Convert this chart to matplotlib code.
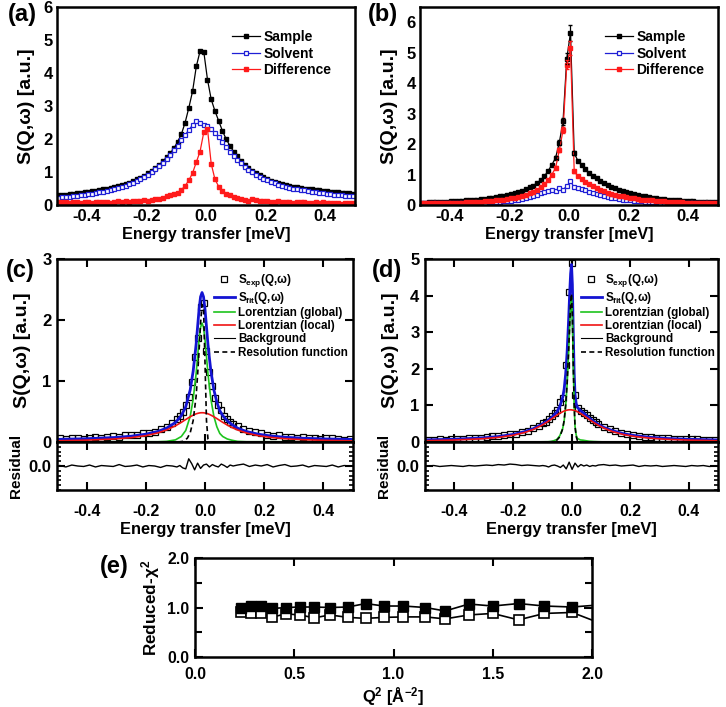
import matplotlib
matplotlib.use("Agg")
import matplotlib.pyplot as plt
from matplotlib import font_manager
from matplotlib.ticker import FixedLocator, MultipleLocator, FormatStrFormatter
import numpy as np

plt.rcParams['font.family'] = ['Liberation Sans', 'DejaVu Sans']
plt.rcParams['font.weight'] = 'bold'
plt.rcParams['axes.labelweight'] = 'bold'
plt.rcParams['axes.unicode_minus'] = False
plt.rcParams['mathtext.fontset'] = 'custom'
plt.rcParams['mathtext.rm'] = 'Liberation Sans:bold'
plt.rcParams['mathtext.it'] = 'Liberation Sans:bold'
plt.rcParams['mathtext.bf'] = 'Liberation Sans:bold'
plt.rcParams['mathtext.default'] = 'rm'

installed = {f.name for f in font_manager.fontManager.ttflist}
HAS_NARROW = 'Liberation Sans Narrow' in installed
NARROW = ['Liberation Sans Narrow', 'Liberation Sans'] if HAS_NARROW else ['Liberation Sans']
NSCALE = 1.0 if HAS_NARROW else 0.88

# ---------------- data: panels (a) and (b) ----------------
ENERGY_AB = np.round(-0.495 + 0.0125 * np.arange(80), 4)

SAMPLE_A = [0.30, 0.31, 0.31, 0.33, 0.34, 0.35, 0.37, 0.38, 0.39, 0.41,
            0.43, 0.45, 0.47, 0.49, 0.52, 0.55, 0.57, 0.61, 0.64, 0.68,
            0.72, 0.78, 0.83, 0.89, 0.96, 1.03, 1.11, 1.21, 1.32, 1.44,
            1.57, 1.72, 1.92, 2.15, 2.50, 2.95, 3.45, 4.20, 4.66, 4.65,
            3.80, 3.20, 2.85, 2.55, 2.25, 2.00, 1.80, 1.62, 1.47, 1.34,
            1.22, 1.12, 1.03, 0.96, 0.90, 0.84, 0.79, 0.74, 0.70, 0.66,
            0.63, 0.60, 0.58, 0.56, 0.54, 0.52, 0.50, 0.48, 0.47, 0.45,
            0.44, 0.43, 0.42, 0.40, 0.39, 0.38, 0.37, 0.36, 0.35, 0.34]
SOLVENT_A = [0.22, 0.23, 0.24, 0.25, 0.26, 0.27, 0.29, 0.30, 0.32, 0.34,
             0.36, 0.38, 0.40, 0.43, 0.46, 0.49, 0.52, 0.55, 0.59, 0.63,
             0.68, 0.73, 0.79, 0.85, 0.92, 1.00, 1.08, 1.18, 1.28, 1.40,
             1.52, 1.66, 1.80, 1.96, 2.12, 2.28, 2.42, 2.56, 2.50, 2.42,
             2.38, 2.30, 2.18, 2.05, 1.90, 1.76, 1.62, 1.49, 1.37, 1.26,
             1.16, 1.07, 0.99, 0.92, 0.86, 0.80, 0.75, 0.70, 0.66, 0.62,
             0.59, 0.56, 0.53, 0.50, 0.48, 0.46, 0.44, 0.42, 0.40, 0.38,
             0.37, 0.35, 0.34, 0.33, 0.31, 0.30, 0.29, 0.28, 0.27, 0.26]
DIFF_A = [0.08, 0.10, 0.09, 0.07, 0.08, 0.10, 0.07, 0.09, 0.08, 0.06,
          0.09, 0.08, 0.10, 0.09, 0.07, 0.08, 0.11, 0.10, 0.12, 0.09,
          0.11, 0.13, 0.12, 0.14, 0.13, 0.16, 0.18, 0.19, 0.22, 0.26,
          0.30, 0.33, 0.37, 0.46, 0.58, 0.75, 0.97, 1.30, 1.62, 2.20,
          2.30, 1.25, 0.78, 0.56, 0.42, 0.34, 0.30, 0.25, 0.21, 0.18,
          0.15, 0.13, 0.17, 0.14, 0.12, 0.13, 0.11, 0.09, 0.10, 0.12,
          0.10, 0.08, 0.09, 0.07, 0.09, 0.08, 0.10, 0.07, 0.06, 0.08,
          0.07, 0.09, 0.06, 0.05, 0.07, 0.06, 0.04, 0.06, 0.05, 0.06]

SAMPLE_B = [0.08, 0.08, 0.09, 0.09, 0.10, 0.10, 0.11, 0.11, 0.12, 0.13,
            0.13, 0.14, 0.15, 0.16, 0.17, 0.18, 0.19, 0.21, 0.22, 0.24,
            0.26, 0.28, 0.30, 0.33, 0.36, 0.39, 0.43, 0.47, 0.52, 0.58,
            0.64, 0.72, 0.82, 0.95, 1.12, 1.32, 1.55, 2.05, 2.75, 4.80,
            5.65, 1.70, 1.45, 1.30, 1.17, 1.06, 0.96, 0.87, 0.79, 0.72,
            0.66, 0.60, 0.55, 0.50, 0.46, 0.42, 0.38, 0.35, 0.32, 0.30,
            0.28, 0.26, 0.24, 0.22, 0.21, 0.19, 0.18, 0.17, 0.16, 0.15,
            0.14, 0.13, 0.13, 0.12, 0.11, 0.11, 0.10, 0.10, 0.09, 0.09]
SOLVENT_B = [0.05, 0.05, 0.05, 0.05, 0.05, 0.05, 0.05, 0.05, 0.06, 0.06,
             0.06, 0.06, 0.06, 0.07, 0.07, 0.07, 0.08, 0.08, 0.09, 0.09,
             0.10, 0.11, 0.12, 0.13, 0.14, 0.16, 0.18, 0.20, 0.23, 0.26,
             0.30, 0.34, 0.38, 0.42, 0.46, 0.50, 0.45, 0.55, 0.50, 0.62,
             0.78, 0.58, 0.55, 0.52, 0.48, 0.44, 0.40, 0.36, 0.33, 0.30,
             0.27, 0.24, 0.22, 0.20, 0.18, 0.16, 0.15, 0.14, 0.13, 0.12,
             0.11, 0.10, 0.09, 0.09, 0.08, 0.08, 0.07, 0.07, 0.07, 0.06,
             0.06, 0.06, 0.06, 0.05, 0.05, 0.05, 0.05, 0.05, 0.05, 0.05]
DIFF_B = [0.06, 0.05, 0.06, 0.07, 0.06, 0.07, 0.06, 0.07, 0.08, 0.07,
          0.08, 0.08, 0.09, 0.09, 0.10, 0.10, 0.11, 0.12, 0.13, 0.14,
          0.15, 0.16, 0.18, 0.20, 0.22, 0.24, 0.27, 0.30, 0.34, 0.38,
          0.43, 0.50, 0.58, 0.68, 0.82, 1.00, 1.22, 1.80, 2.45, 4.60,
          5.15, 1.10, 0.95, 0.85, 0.76, 0.68, 0.61, 0.55, 0.50, 0.45,
          0.41, 0.37, 0.34, 0.31, 0.28, 0.26, 0.24, 0.22, 0.20, 0.18,
          0.17, 0.16, 0.15, 0.14, 0.13, 0.12, 0.11, 0.11, 0.10, 0.09,
          0.09, 0.08, 0.08, 0.08, 0.07, 0.07, 0.07, 0.06, 0.06, 0.06]
# error bars are only visible on the central points of (b)
ERR_SLICE = slice(36, 42)
SAMPLE_B_ERR = [0.05, 0.08, 0.12, 0.18, 0.25, 0.06]
DIFF_B_ERR = [0.05, 0.07, 0.10, 0.15, 0.22, 0.05]

# ---------------- data: panels (c) and (d) ----------------
TAIL_LEFT = [-0.49, -0.47, -0.45, -0.43, -0.41, -0.39, -0.37, -0.35, -0.33, -0.31,
             -0.29, -0.27, -0.25, -0.23, -0.21, -0.19, -0.17, -0.15, -0.13, -0.11]
TAIL_RIGHT = [0.11, 0.13, 0.15, 0.17, 0.19, 0.21, 0.23, 0.25, 0.27, 0.29,
              0.31, 0.33, 0.35, 0.37, 0.39, 0.41, 0.43, 0.45, 0.47, 0.49]
CENTER_C = [-0.095, -0.085, -0.075, -0.065, -0.055, -0.045, -0.035, -0.025, -0.015, -0.005,
            0.005, 0.015, 0.025, 0.035, 0.045, 0.055, 0.065, 0.075, 0.085, 0.095]
CENTER_D = [-0.098, -0.088, -0.078, -0.068, -0.058, -0.048, -0.038, -0.028, -0.018, -0.008,
            0.002, 0.012, 0.022, 0.032, 0.042, 0.052, 0.062, 0.072, 0.082, 0.092]
ENERGY_C = TAIL_LEFT + CENTER_C + TAIL_RIGHT
ENERGY_D = TAIL_LEFT + CENTER_D + TAIL_RIGHT

EXP_C = [0.06, 0.05, 0.07, 0.06, 0.05, 0.07, 0.08, 0.06, 0.09, 0.10,
         0.08, 0.11, 0.12, 0.11, 0.15, 0.15, 0.17, 0.21, 0.25, 0.31,
         0.37, 0.42, 0.50, 0.60, 0.74, 0.98, 1.40, 1.70, 2.22, 2.28,
         1.50, 1.15, 0.92, 0.72, 0.60, 0.53, 0.43, 0.38, 0.33, 0.30,
         0.26, 0.21, 0.18, 0.17, 0.15, 0.12, 0.10, 0.11, 0.08, 0.09,
         0.07, 0.08, 0.06, 0.07, 0.05, 0.06, 0.07, 0.05, 0.04, 0.05]
RESID_C = [0.01, -0.02, 0.02, 0.00, -0.01, 0.02, -0.02, 0.01, 0.00, -0.01,
           0.03, -0.01, 0.00, 0.02, -0.02, 0.01, 0.00, -0.03, 0.01, 0.00,
           -0.02, 0.01, -0.04, -0.06, 0.15, 0.05, -0.08, 0.06, -0.05, 0.02,
           0.04, -0.02, 0.03, 0.00, -0.02, 0.04, 0.01, -0.03, 0.02, 0.00,
           0.02, 0.04, -0.01, 0.02, 0.00, 0.03, -0.02, 0.01, 0.03, -0.01,
           0.00, 0.02, -0.02, 0.01, 0.00, -0.01, 0.02, -0.02, 0.01, 0.00]
EXP_D = [0.06, 0.05, 0.07, 0.06, 0.08, 0.07, 0.09, 0.10, 0.11, 0.12,
         0.13, 0.16, 0.17, 0.19, 0.21, 0.23, 0.27, 0.31, 0.38, 0.45,
         0.51, 0.56, 0.63, 0.70, 0.79, 0.88, 1.08, 1.20, 2.10, 4.10,
         4.88, 1.28, 0.92, 0.86, 0.80, 0.74, 0.66, 0.60, 0.54, 0.50,
         0.41, 0.35, 0.31, 0.25, 0.22, 0.19, 0.17, 0.14, 0.13, 0.12,
         0.11, 0.10, 0.09, 0.09, 0.08, 0.08, 0.07, 0.06, 0.06, 0.05]
RESID_D = [0.00, 0.01, -0.01, 0.00, 0.01, 0.00, -0.01, 0.01, 0.00, 0.01,
           0.02, 0.01, 0.03, 0.02, 0.04, 0.03, 0.01, 0.02, 0.01, 0.00,
           0.01, 0.00, -0.02, 0.01, 0.02, 0.00, -0.03, 0.02, -0.06, 0.08,
           -0.07, 0.06, -0.02, 0.03, 0.00, 0.02, -0.01, 0.01, 0.00, 0.02,
           0.03, 0.01, 0.02, 0.00, 0.01, 0.02, -0.01, 0.01, 0.00, 0.01,
           -0.01, 0.00, 0.01, 0.00, -0.01, 0.01, 0.00, 0.01, -0.01, 0.00]

FIT_X_C = [-0.5, -0.4, -0.3, -0.25, -0.2, -0.16, -0.13, -0.1, -0.08, -0.065,
           -0.05, -0.04, -0.03, -0.025, -0.02, -0.015, -0.01, -0.005, 0.0, 0.005,
           0.01, 0.015, 0.02, 0.03, 0.04, 0.05, 0.06, 0.075, 0.09, 0.11,
           0.14, 0.18, 0.22, 0.27, 0.33, 0.4, 0.5]
FIT_C = [0.043, 0.054, 0.075, 0.095, 0.128, 0.172, 0.227, 0.32, 0.432, 0.579,
         0.854, 1.16, 1.60, 1.89, 2.175, 2.38, 2.45, 2.38, 2.175, 1.89,
         1.60, 1.37, 1.16, 0.854, 0.654, 0.513, 0.432, 0.349, 0.29, 0.227,
         0.172, 0.128, 0.10, 0.078, 0.062, 0.051, 0.042]
GLOBAL_C = [0.004, 0.004, 0.004, 0.004, 0.004, 0.004, 0.01, 0.035, 0.09, 0.19,
            0.42, 0.70, 1.12, 1.40, 1.68, 1.88, 1.95, 1.88, 1.68, 1.40,
            1.12, 0.90, 0.70, 0.42, 0.25, 0.14, 0.09, 0.05, 0.03, 0.01,
            0.004, 0.004, 0.004, 0.004, 0.004, 0.004, 0.004]
LOCAL_C = [0.019, 0.030, 0.051, 0.071, 0.104, 0.148, 0.197, 0.265, 0.322, 0.369,
           0.414, 0.440, 0.462, 0.469, 0.475, 0.479, 0.480, 0.479, 0.475, 0.469,
           0.462, 0.452, 0.440, 0.414, 0.384, 0.353, 0.322, 0.279, 0.240, 0.197,
           0.148, 0.104, 0.076, 0.054, 0.038, 0.027, 0.018]
RES_X_C = [-0.09, -0.075, -0.06, -0.05, -0.04, -0.03, -0.025, -0.02, -0.015, -0.01,
           -0.005, 0.0, 0.005, 0.01, 0.02]
RES_C = [0.0, 0.01, 0.06, 0.15, 0.35, 0.75, 1.1, 1.5, 1.95, 2.25, 2.2, 1.3, 0.35, 0.05, 0.0]
BACKGROUND_C = 0.02

FIT_X_D = [-0.5, -0.4, -0.3, -0.25, -0.2, -0.16, -0.13, -0.1, -0.08, -0.065,
           -0.05, -0.04, -0.03, -0.025, -0.02, -0.015, -0.01, -0.006, -0.003, 0.0,
           0.003, 0.006, 0.009, 0.012, 0.016, 0.02, 0.03, 0.04, 0.05, 0.06,
           0.075, 0.09, 0.11, 0.14, 0.18, 0.22, 0.27, 0.33, 0.4, 0.5]
FIT_D = [0.058, 0.076, 0.114, 0.149, 0.206, 0.282, 0.366, 0.487, 0.59, 0.69,
         0.82, 0.97, 1.22, 1.45, 1.85, 2.45, 3.3, 4.1, 4.6, 4.85,
         4.3, 3.0, 1.9, 1.3, 1.05, 0.95, 0.86, 0.80, 0.73, 0.66,
         0.57, 0.49, 0.40, 0.31, 0.22, 0.17, 0.126, 0.095, 0.074, 0.056]
GLOBAL_D = [0.004, 0.003, 0.003, 0.003, 0.003, 0.003, 0.003, 0.005, 0.007, 0.02,
            0.07, 0.17, 0.37, 0.58, 0.97, 1.56, 2.40, 3.20, 3.70, 3.95,
            3.41, 2.11, 1.02, 0.43, 0.19, 0.10, 0.056, 0.048, 0.034, 0.021,
            0.013, 0.008, 0.003, 0.003, 0.003, 0.003, 0.003, 0.003, 0.003, 0.003]
LOCAL_D = [0.034, 0.053, 0.091, 0.126, 0.183, 0.259, 0.343, 0.463, 0.563, 0.647,
           0.732, 0.784, 0.828, 0.846, 0.861, 0.871, 0.878, 0.880, 0.880, 0.878,
           0.874, 0.869, 0.863, 0.855, 0.843, 0.828, 0.784, 0.732, 0.676, 0.619,
           0.537, 0.463, 0.379, 0.284, 0.199, 0.145, 0.103, 0.072, 0.051, 0.033]
RES_X_D = [-0.08, -0.065, -0.05, -0.04, -0.03, -0.025, -0.02, -0.015, -0.01, -0.006,
           -0.003, 0.0, 0.003, 0.006, 0.009, 0.012, 0.016, 0.02, 0.03]
RES_D = [0.0, 0.01, 0.05, 0.14, 0.36, 0.6, 1.0, 1.6, 2.45, 3.25,
         3.8, 4.05, 3.5, 2.15, 1.05, 0.43, 0.15, 0.04, 0.0]
BACKGROUND_D = 0.02

# ---------------- data: panel (e) ----------------
Q2 = [0.23, 0.28, 0.33, 0.39, 0.46, 0.53, 0.60, 0.68, 0.77, 0.86,
      0.95, 1.05, 1.16, 1.26, 1.38, 1.50, 1.63, 1.76, 1.90, 2.03]
CHI2_FILLED = [1.00, 1.03, 1.03, 0.98, 1.00, 1.01, 1.01, 1.00, 1.01, 1.08,
               1.03, 1.03, 1.00, 0.93, 1.07, 1.03, 1.08, 1.03, 1.01, 1.05]
CHI2_OPEN = [0.90, 0.88, 0.88, 0.81, 0.87, 0.85, 0.79, 0.85, 0.80, 0.78,
             0.80, 0.81, 0.81, 0.77, 0.85, 0.88, 0.75, 0.88, 0.90, 0.70]

E_TICKS = [-0.4, -0.2, 0.0, 0.2, 0.4]
W, H = 726.0, 707.0
SPINE = 1.8
OMEGA = '\u03c9'


def rect(x0, y0, x1, y1):
    # pixel box of the reference -> figure fraction
    return [x0 / W, 1 - y1 / H, (x1 - x0) / W, (y1 - y0) / H]


def set_spines(ax):
    for s in ax.spines.values():
        s.set_linewidth(SPINE)


def narrow_ticks(ax, size, axis='both'):
    labels = []
    if axis in ('both', 'x'):
        labels += ax.get_xticklabels()
    if axis in ('both', 'y'):
        labels += ax.get_yticklabels()
    for lbl in labels:
        lbl.set_fontfamily(NARROW)
        lbl.set_fontsize(size * NSCALE)
        lbl.set_fontweight('bold')


def plotTopPanel(ax, sample, solvent, diff, ymax, legend_x, with_err=False):
    l1, = ax.plot(ENERGY_AB, sample, '-', color='black', lw=0.9, marker='s',
                  ms=3.3, mfc='black', mec='black')
    l2, = ax.plot(ENERGY_AB, solvent, '-', color='#1f1fd6', lw=0.9, marker='s',
                  ms=3.3, mfc='white', mec='#1f1fd6', mew=0.9)
    l3, = ax.plot(ENERGY_AB, diff, '-', color='#ff1a1a', lw=0.9, marker='s',
                  ms=3.3, mfc='#ff1a1a', mec='#ff1a1a')
    if with_err:
        ax.errorbar(ENERGY_AB[ERR_SLICE], np.array(sample)[ERR_SLICE], yerr=SAMPLE_B_ERR,
                    fmt='none', ecolor='black', elinewidth=0.9, capsize=1.5)
        ax.errorbar(ENERGY_AB[ERR_SLICE], np.array(diff)[ERR_SLICE], yerr=DIFF_B_ERR,
                    fmt='none', ecolor='#ff1a1a', elinewidth=0.9, capsize=1.5)
    ax.set_xlim(-0.5, 0.5)
    ax.set_ylim(0, ymax)
    ax.set_xticks(E_TICKS)
    ax.xaxis.set_major_formatter(FormatStrFormatter('%.1f'))
    ax.set_yticks([0, 1, 2, 3, 4, 5, 6])
    ax.tick_params(length=0, labelsize=12, pad=3)
    set_spines(ax)
    ax.set_xlabel('Energy transfer [meV]', fontsize=11.6, labelpad=2)
    ax.set_ylabel('S(Q,' + OMEGA + ') [a.u.]', fontsize=14, labelpad=6)
    ax.legend([l1, l2, l3], ['Sample', 'Solvent', 'Difference'], loc='upper left',
              bbox_to_anchor=(legend_x, 0.885), frameon=False, fontsize=10,
              handlelength=2.0, handletextpad=0.25, labelspacing=0.2,
              borderpad=0, borderaxespad=0, numpoints=1)


def plotFitPanel(fig, main_rect, res_rect, energy, exp, resid, fit_x, fit, glob,
                 local, res_x, res, bkg, ymax, legend_x):
    ax = fig.add_axes(main_rect)
    axr = fig.add_axes(res_rect, sharex=ax)

    h_exp, = ax.plot(energy, exp, 's', ms=4.6, mfc='none', mec='black', mew=0.9)
    h_fit, = ax.plot(fit_x, fit, '-', color='#1414d2', lw=2.0)
    h_glob, = ax.plot(fit_x, glob, '-', color='#1ec41e', lw=1.2)
    h_loc, = ax.plot(fit_x, local, '-', color='#f01414', lw=1.2)
    h_bkg = ax.axhline(bkg, color='black', lw=0.8)
    h_res, = ax.plot(res_x, res, color='black', lw=1.2, ls=(0, (3, 2)))

    ax.set_xlim(-0.5, 0.5)
    ax.set_ylim(0, ymax)
    ax.set_xticks(E_TICKS)
    ax.yaxis.set_major_locator(MultipleLocator(1))
    ax.tick_params(direction='in', length=6, width=1.5, top=True, right=True,
                   labelsize=12, labelbottom=False, pad=4)
    set_spines(ax)
    ax.set_ylabel('S(Q,' + OMEGA + ') [a.u.]', fontsize=14, labelpad=8)
    ax.legend([h_exp, h_fit, h_glob, h_loc, h_bkg, h_res],
              ['S$_{exp}$(Q,' + OMEGA + ')', 'S$_{fit}$(Q,' + OMEGA + ')',
               'Lorentzian (global)', 'Lorentzian (local)', 'Background',
               'Resolution function'],
              loc='upper left', bbox_to_anchor=(legend_x, 0.93), frameon=False,
              fontsize=8.4, handlelength=1.8, handletextpad=0.3, labelspacing=0.1,
              borderpad=0, borderaxespad=0, numpoints=1)

    axr.plot(energy, resid, '-', color='black', lw=1.0)
    axr.set_ylim(-0.5, 0.5)
    axr.yaxis.set_major_locator(FixedLocator([0.0]))
    axr.yaxis.set_minor_locator(MultipleLocator(0.1))
    axr.yaxis.set_major_formatter(FormatStrFormatter('%.1f'))
    axr.tick_params(which='major', direction='in', length=6, width=1.5, top=True,
                    right=True, labelsize=12, pad=4)
    axr.tick_params(axis='x', which='major', pad=10)
    axr.tick_params(which='minor', direction='in', length=3, width=1.2, left=True,
                    right=True, bottom=False, top=False)
    axr.xaxis.set_major_formatter(FormatStrFormatter('%.1f'))
    set_spines(axr)
    narrow_ticks(axr, 13, axis='x')
    axr.set_xlabel('Energy transfer [meV]', fontsize=11.8, family=NARROW, labelpad=2)
    axr.set_ylabel('Residual', fontsize=11, labelpad=4)
    return ax, axr


def plotChi(fig):
    ax = fig.add_axes(rect(195, 558, 592, 657))
    ax.plot(Q2, CHI2_OPEN, '-', color='black', lw=1.2, marker='s', ms=6.5,
            mfc='white', mec='black', mew=1.2, zorder=2)
    ax.plot(Q2, CHI2_FILLED, '-', color='black', lw=1.2, marker='s', ms=6.5,
            mfc='black', mec='black', zorder=3)
    ax.set_xlim(0, 2)
    ax.set_ylim(0, 2)
    ax.xaxis.set_major_locator(MultipleLocator(0.5))
    ax.yaxis.set_major_locator(MultipleLocator(1.0))
    ax.yaxis.set_minor_locator(MultipleLocator(0.5))
    ax.xaxis.set_major_formatter(FormatStrFormatter('%.1f'))
    ax.yaxis.set_major_formatter(FormatStrFormatter('%.1f'))
    ax.tick_params(which='major', direction='in', length=6, width=1.5, top=True,
                   right=True, pad=4)
    ax.tick_params(axis='x', which='major', pad=7)
    ax.tick_params(which='minor', direction='in', length=5, width=1.5, left=True,
                   right=True, bottom=False, top=False)
    set_spines(ax)
    narrow_ticks(ax, 13)
    ax.set_xlabel('Q$^{2}$ [\u00c5$^{-2}$]', fontsize=13.5 * NSCALE, family=NARROW,
                  labelpad=3)
    ax.set_ylabel(r'Reduced-$\chi^{2}$', fontsize=14 * NSCALE, family=NARROW, labelpad=4)
    return ax


def main():
    fig = plt.figure(figsize=(7.26, 7.07), dpi=100)
    fig.patch.set_facecolor('white')

    ax_a = fig.add_axes(rect(57, 7, 355, 205))
    plotTopPanel(ax_a, SAMPLE_A, SOLVENT_A, DIFF_A, 6.0, 0.587)

    ax_b = fig.add_axes(rect(420, 7, 718, 205))
    plotTopPanel(ax_b, SAMPLE_B, SOLVENT_B, DIFF_B, 6.5, 0.621, with_err=True)

    plotFitPanel(fig, rect(57, 259, 353, 442), rect(57, 442, 353, 490),
                 ENERGY_C, EXP_C, RESID_C, FIT_X_C, FIT_C, GLOBAL_C, LOCAL_C,
                 RES_X_C, RES_C, BACKGROUND_C, 3.0, 0.529)
    plotFitPanel(fig, rect(425, 259, 718, 442), rect(425, 442, 718, 490),
                 ENERGY_D, EXP_D, RESID_D, FIT_X_D, FIT_D, GLOBAL_D, LOCAL_D,
                 RES_X_D, RES_D, BACKGROUND_D, 5.0, 0.532)

    plotChi(fig)

    for lbl, px, py in [('(a)', 22, 15), ('(b)', 383, 15), ('(c)', 20, 270),
                        ('(d)', 387, 270), ('(e)', 114, 567)]:
        fig.text(px / W, 1 - py / H, lbl, fontsize=17, fontweight='bold',
                 ha='center', va='center')

    fig.savefig('out.png', dpi=100)


if __name__ == "__main__":
    main()
